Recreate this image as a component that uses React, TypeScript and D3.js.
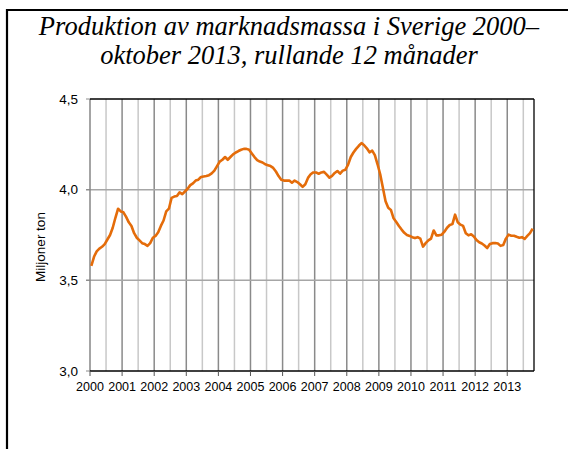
import React from 'react';
import * as d3 from 'd3';

// Rullande 12 månader, miljoner ton, jan 2000 – okt 2013
const production: number[] = [
  // 2000
  3.58, 3.63, 3.66, 3.675, 3.685, 3.70, 3.725, 3.75, 3.79, 3.845, 3.895, 3.88,
  // 2001
  3.875, 3.85, 3.82, 3.80, 3.76, 3.735, 3.72, 3.705, 3.70, 3.69, 3.705, 3.735,
  // 2002
  3.745, 3.765, 3.80, 3.83, 3.88, 3.895, 3.955, 3.962, 3.965, 3.985, 3.975, 3.99,
  // 2003
  4.005, 4.025, 4.035, 4.05, 4.055, 4.07, 4.073, 4.075, 4.08, 4.09, 4.105, 4.13,
  // 2004
  4.155, 4.165, 4.18, 4.165, 4.18, 4.195, 4.205, 4.213, 4.22, 4.225, 4.225, 4.22,
  // 2005
  4.20, 4.18, 4.163, 4.155, 4.15, 4.14, 4.135, 4.13, 4.12, 4.10, 4.075, 4.055,
  // 2006
  4.05, 4.05, 4.05, 4.038, 4.05, 4.042, 4.03, 4.015, 4.03, 4.065, 4.085, 4.095,
  // 2007
  4.095, 4.088, 4.095, 4.098, 4.083, 4.066, 4.076, 4.092, 4.103, 4.088, 4.105, 4.11,
  // 2008
  4.138, 4.18, 4.205, 4.225, 4.242, 4.257, 4.245, 4.228, 4.206, 4.215, 4.19, 4.14,
  // 2009
  4.085, 4.01, 3.936, 3.90, 3.888, 3.842, 3.822, 3.80, 3.78, 3.762, 3.75, 3.745,
  // 2010
  3.738, 3.733, 3.738, 3.73, 3.686, 3.705, 3.72, 3.73, 3.775, 3.748, 3.748, 3.752,
  // 2011
  3.768, 3.79, 3.805, 3.81, 3.862, 3.82, 3.807, 3.80, 3.76, 3.748, 3.754, 3.742,
  // 2012
  3.722, 3.71, 3.703, 3.692, 3.678, 3.70, 3.705, 3.706, 3.703, 3.69, 3.695, 3.73,
  // 2013 (jan-okt)
  3.752, 3.746, 3.746, 3.74, 3.735, 3.738, 3.728, 3.745, 3.76, 3.785,
];

const years: string[] = [
  '2000', '2001', '2002', '2003', '2004', '2005', '2006',
  '2007', '2008', '2009', '2010', '2011', '2012', '2013',
];

const yTicks: number[] = [3.0, 3.5, 4.0, 4.5];
const yTickLabels: string[] = ['3,0', '3,5', '4,0', '4,5'];

const titleLines: string[] = [
  'Produktion av marknadsmassa i Sverige 2000–',
  'oktober 2013, rullande 12 månader',
];

const WIDTH = 568;
const HEIGHT = 449;
const margin = { top: 99, right: 34, bottom: 78, left: 90 };

export default function App() {
  const innerW = WIDTH - margin.left - margin.right;
  const innerH = HEIGHT - margin.top - margin.bottom;

  const x = d3.scaleLinear().domain([0, production.length]).range([0, innerW]);
  const y = d3.scaleLinear().domain([3, 4.5]).range([innerH, 0]);

  const line = d3.line<number>()
    .x((_, i) => x(i + 0.5))
    .y(d => y(d));

  // half-year grid lines (every 6 months), darker at year starts
  const halfYears = d3.range(6, production.length, 6);

  const font = 'Arial, "Liberation Sans", sans-serif';

  return (
    <svg
      width={WIDTH}
      height={HEIGHT}
      style={{ position: 'absolute', left: 0, top: 0, display: 'block', background: '#fff' }}
    >
      {/* outer frame (only left/top visible) */}
      <path d="M7,460 V10 H580" fill="none" stroke="#000" strokeWidth={2.2} />

      {titleLines.map((t, i) => (
        <text
          key={t}
          x={289}
          y={35 + i * 29}
          textAnchor="middle"
          fontFamily='"Times New Roman", "Liberation Serif", serif'
          fontStyle="italic"
          fontSize={26.5}
          fill="#000"
        >
          {t}
        </text>
      ))}

      <g transform={`translate(${margin.left},${margin.top})`}>
        {halfYears.map(m => (
          <line
            key={m}
            x1={x(m)}
            x2={x(m)}
            y1={0}
            y2={innerH}
            stroke={m % 12 === 0 ? '#8a8a8a' : '#c8c8c8'}
            strokeWidth={1.5}
          />
        ))}

        {yTicks.slice(1, 3).map(v => (
          <line key={v} x1={-4} x2={innerW} y1={y(v)} y2={y(v)} stroke="#a6a6a6" strokeWidth={1.5} />
        ))}

        {yTicks.map((v, i) => (
          <g key={v}>
            <line x1={-4} x2={0} y1={y(v)} y2={y(v)} stroke="#8a8a8a" strokeWidth={1} />
            <text
              x={-12}
              y={y(v) + 4.8}
              textAnchor="end"
              fontFamily={font}
              fontSize={13.5}
              fill="#000"
            >
              {yTickLabels[i]}
            </text>
          </g>
        ))}

        {/* plot borders */}
        <line x1={0} x2={0} y1={0} y2={innerH} stroke="#868686" strokeWidth={1.5} />
        <line x1={0} x2={innerW} y1={0} y2={0} stroke="#000" strokeWidth={1.3} />
        <line x1={innerW} x2={innerW} y1={0} y2={innerH} stroke="#000" strokeWidth={1.3} />
        <line x1={0} x2={innerW} y1={innerH} y2={innerH} stroke="#000" strokeWidth={1.3} />

        {years.map((yr, i) => (
          <g key={yr} transform={`translate(${x(i * 12)},${innerH})`}>
            <line y1={0} y2={5} stroke="#555" strokeWidth={1} />
            <text
              y={19.5}
              textAnchor="middle"
              fontFamily={font}
              fontSize={12.5}
              fill="#000"
            >
              {yr}
            </text>
          </g>
        ))}

        <path
          d={line(production) ?? ''}
          fill="none"
          stroke="#E46C0A"
          strokeWidth={2.6}
          strokeLinejoin="round"
        />

        <text
          transform={`translate(${40 - margin.left},${247 - margin.top}) rotate(-90)`}
          textAnchor="middle"
          dy="0.35em"
          fontFamily={font}
          fontSize={13.5}
          fill="#000"
        >
          Miljoner ton
        </text>
      </g>
    </svg>
  );
}
